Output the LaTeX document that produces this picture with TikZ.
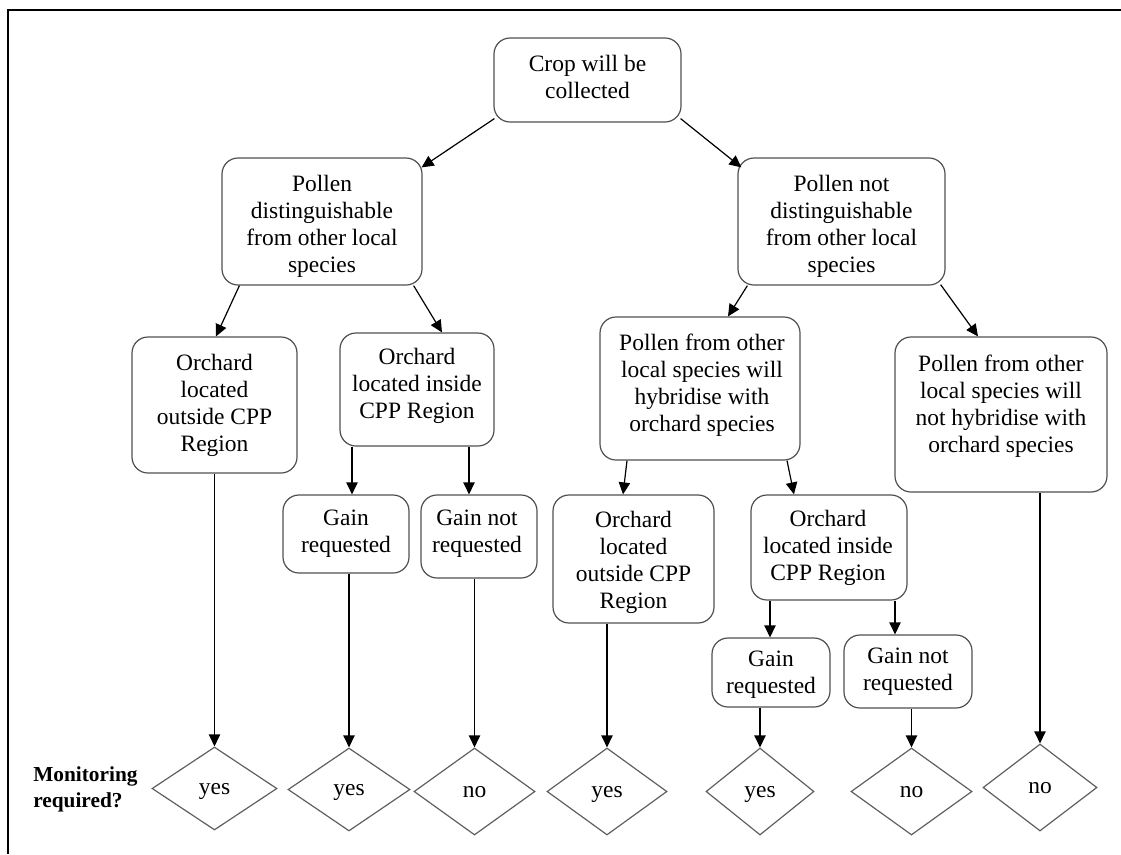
\documentclass[tikz,border=0pt]{standalone}
\usepackage{fontspec}
\setmainfont{Liberation Serif}
\usetikzlibrary{shapes.geometric,arrows.meta,calc}
\definecolor{boxgray}{RGB}{80,80,80}
\definecolor{diagray}{RGB}{95,95,95}
\newcommand{\boxfont}{\fontsize{17.6}{20.25}\selectfont}
\newcommand{\lblfont}{\fontsize{16}{19.5}\selectfont\bfseries}
\begin{document}
\begin{tikzpicture}[x=0.75pt,y=-0.75pt,
  box/.style={draw=boxgray,line width=0.9pt,rounded corners=12pt,inner sep=0pt},
  sz/.style 2 args={minimum width=#1*0.75pt,minimum height=#2*0.75pt},
  txt/.style={align=center,inner sep=0pt,font=\boxfont},
  dia/.style={draw=diagray,line width=0.9pt,diamond,inner sep=0pt,font=\boxfont,text depth=0pt},
  arr/.style={draw=black,line width=0.9pt,-{Triangle[length=9pt,width=8.5pt]}},
  frame/.style={draw=black,line width=1.1pt}]
\useasboundingbox (0,0) rectangle (1121,854);
\draw[frame] (8,854) -- (8,10) -- (1121,10);

% boxes
\node[box,sz={187}{84}] (crop) at (587.5,80) {};
\node[txt] (crop-t) at (587.5,77) {Crop will be\\collected};

\node[box,sz={200}{127}] (pd) at (322,221.5) {};
\node[txt] (pd-t) at (322,226) {Pollen\\distinguishable\\from other local\\species};

\node[box,sz={207}{127}] (pnd) at (841.5,221.5) {};
\node[txt] (pnd-t) at (841.5,226) {Pollen not\\distinguishable\\from other local\\species};

\node[box,sz={165}{136}] (ool) at (214.5,405) {};
\node[txt] (ool-t) at (214.5,405) {Orchard\\located\\outside CPP\\Region};

\node[box,sz={154}{113}] (oil) at (417,389.5) {};
\node[txt] (oil-t) at (417,386) {Orchard\\located inside\\CPP Region};

\node[box,sz={200}{143}] (hyb) at (700,388.5) {};
\node[txt] (hyb-t) at (702,385) {Pollen from other\\local species will\\hybridise with\\orchard species};

\node[box,sz={212}{155}] (nhyb) at (1001,414.5) {};
\node[txt] (nhyb-t) at (1001,406) {Pollen from other\\local species will\\not hybridise with\\orchard species};

\node[box,sz={126}{78}] (grl) at (346,534) {};
\node[txt] (grl-t) at (346,534) {Gain\\requested};

\node[box,sz={116}{83}] (gnl) at (479,536.5) {};
\node[txt] (gnl-t) at (477,534) {Gain not\\requested};

\node[box,sz={161}{128}] (oor) at (633.5,559) {};
\node[txt] (oor-t) at (633.5,562) {Orchard\\located\\outside CPP\\Region};

\node[box,sz={156}{105}] (oir) at (829,547.5) {};
\node[txt] (oir-t) at (828,548) {Orchard\\located inside\\CPP Region};

\node[box,sz={118}{69}] (grr) at (771,672.5) {};
\node[txt] (grr-t) at (771,675) {Gain\\requested};

\node[box,sz={128}{73}] (gnr) at (908,671.5) {};
\node[txt] (gnr-t) at (908,672) {Gain not\\requested};

% diamonds
\node[dia,sz={125}{83}] (d1) at (214.5,788.5) {yes};
\node[dia,sz={122}{83}] (d2) at (349,789.5) {yes};
\node[dia,sz={121}{87}] (d3) at (474.5,791.5) {no};
\node[dia,sz={120}{87}] (d4) at (607,791.5) {yes};
\node[dia,sz={108}{87}] (d5) at (760,791.5) {yes};
\node[dia,sz={121}{87}] (d6) at (911.5,791.5) {no};
\node[dia,sz={114}{87}] (d7) at (1040,787.5) {no};

\node[anchor=west,align=left,inner sep=0pt,font=\lblfont] (mon) at (33,789) {Monitoring\\required?};

% connectors
\draw[arr] ([shift={(1,-4)}]crop.south west) -- ([shift={(-1,10)}]pd.north east);
\draw[arr] ([shift={(-1,-4)}]crop.south east) -- ([shift={(4,10)}]pnd.north west);
\draw[arr] ([shift={(18,0)}]pd.south west) -- ([shift={(1.5,0)}]ool.north);
\draw[arr] ([shift={(-9,0)}]pd.south east) -- ([shift={(25,0)}]oil.north);
\draw[arr] ([shift={(10,0)}]pnd.south west) -- ([shift={(28,0)}]hyb.north);
\draw[arr] ([shift={(-5,-1)}]pnd.south east) -- ([shift={(-23,0)}]nhyb.north);
\draw[arr] ([shift={(-65,0)}]oil.south) -- ([shift={(6,0)}]grl.north);
\draw[arr] ([shift={(52,0)}]oil.south) -- ([shift={(-10,0)}]gnl.north);
\draw[arr] ([shift={(-73,0)}]hyb.south) -- ([shift={(-10.5,0)}]oor.north);
\draw[arr] ([shift={(87,0)}]hyb.south) -- ([shift={(-35,0)}]oir.north);
\draw[arr] ([shift={(-59,0)}]oir.south) -- ([shift={(-1,0)}]grr.north);
\draw[arr] ([shift={(66,0)}]oir.south) -- ([shift={(-13,0)}]gnr.north);
\draw[arr] (d1 |- ool.south) -- (d1.north);
\draw[arr] (d2 |- grl.south) -- (d2.north);
\draw[arr] (d3 |- gnl.south) -- (d3.north);
\draw[arr] (d4 |- oor.south) -- (d4.north);
\draw[arr] (d5 |- grr.south) -- (d5.north);
\draw[arr] (d6 |- gnr.south) -- (d6.north);
\draw[arr] (d7 |- nhyb.south) -- (d7.north);
\end{tikzpicture}
\end{document}
